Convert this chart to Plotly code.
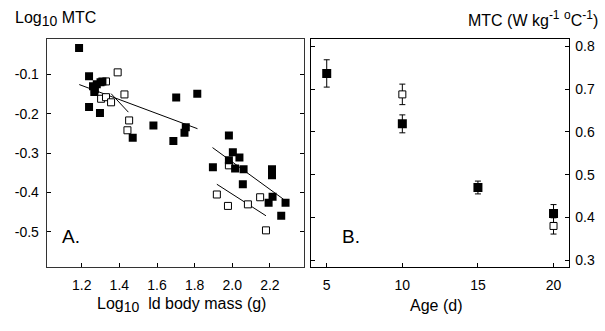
import plotly.graph_objects as go

# ---------------- Panel A data ----------------
# filled squares
a_fill_x = [1.186, 1.239, 1.26, 1.28, 1.30, 1.31, 1.27, 1.267, 1.239, 1.297, 1.471,
            1.581, 1.702, 1.814, 1.753, 1.746, 1.687,
            1.982, 2.003, 2.038, 1.982, 1.897, 2.015, 2.06, 2.211, 2.211, 2.056,
            2.214, 2.193, 2.283, 2.26]
a_fill_y = [-0.033, -0.105, -0.13, -0.125, -0.12, -0.118, -0.138, -0.145, -0.183, -0.198, -0.261,
            -0.230, -0.159, -0.149, -0.234, -0.248, -0.269,
            -0.255, -0.298, -0.311, -0.318, -0.336, -0.339, -0.341, -0.341, -0.356, -0.379,
            -0.411, -0.426, -0.426, -0.459]
# open squares
a_open_x = [1.391, 1.329, 1.303, 1.329, 1.356, 1.427, 1.452, 1.443,
            1.982, 1.918, 1.977, 2.083, 2.148, 2.179]
a_open_y = [-0.095, -0.118, -0.162, -0.158, -0.171, -0.151, -0.217, -0.242,
            -0.331, -0.405, -0.434, -0.430, -0.412, -0.496]
# regression line endpoints
fit1_x = [1.187, 1.815]; fit1_y = [-0.126, -0.238]
fit2_x = [1.356, 1.448]; fit2_y = [-0.149, -0.196]
fit3_x = [1.895, 2.272]; fit3_y = [-0.286, -0.417]
fit4_x = [1.918, 2.179]; fit4_y = [-0.379, -0.459]

a_xticks = [1.2, 1.4, 1.6, 1.8, 2.0, 2.2]
a_xtext = ["1.2", "1.4", "1.6", "1.8", "2.0", "2.2"]
a_yticks = [-0.1, -0.2, -0.3, -0.4, -0.5]
a_ytext = ["-0.1", "-0.2", "-0.3", "-0.4", "-0.5"]

# ---------------- Panel B data ----------------
b_fill_age = [5, 10, 15, 20]
b_fill_mtc = [0.737, 0.619, 0.470, 0.409]
b_fill_err = [0.032, 0.021, 0.015, 0.021]
b_open_age = [10, 20]
b_open_mtc = [0.688, 0.380]
b_open_err = [0.024, 0.019]

b_xticks = [5, 10, 15, 20]
b_yticks = [0.3, 0.4, 0.5, 0.6, 0.7, 0.8]
b_ytext = ["0.3", "0.4", "0.5", "0.6", "0.7", "0.8"]

W, H = 605, 331
FONT = "Liberation Sans, Arial, sans-serif"

fig = go.Figure()

for fx, fy in [(fit1_x, fit1_y), (fit2_x, fit2_y), (fit3_x, fit3_y), (fit4_x, fit4_y)]:
    fig.add_trace(go.Scatter(x=fx, y=fy, mode="lines", line=dict(color="black", width=1),
                             xaxis="x", yaxis="y", showlegend=False))

fig.add_trace(go.Scatter(x=a_open_x, y=a_open_y, mode="markers",
                         marker=dict(symbol="square", size=7, color="white",
                                     line=dict(color="black", width=1)),
                         xaxis="x", yaxis="y", showlegend=False))
fig.add_trace(go.Scatter(x=a_fill_x, y=a_fill_y, mode="markers",
                         marker=dict(symbol="square", size=8, color="black",
                                     line=dict(color="black", width=0)),
                         xaxis="x", yaxis="y", showlegend=False))

fig.add_trace(go.Scatter(x=b_open_age, y=b_open_mtc, mode="markers",
                         error_y=dict(type="data", array=b_open_err, color="black",
                                      thickness=1, width=3),
                         marker=dict(symbol="square", size=7, color="white",
                                     line=dict(color="black", width=1)),
                         xaxis="x2", yaxis="y2", showlegend=False))
fig.add_trace(go.Scatter(x=b_fill_age, y=b_fill_mtc, mode="markers",
                         error_y=dict(type="data", array=b_fill_err, color="black",
                                      thickness=1, width=3),
                         marker=dict(symbol="square", size=9, color="black",
                                     line=dict(color="black", width=0)),
                         xaxis="x2", yaxis="y2", showlegend=False))

ydom = [1 - 268 / H, 1 - 38.5 / H]
tickfont = dict(family=FONT, size=14, color="black")

fig.update_layout(
    width=W, height=H,
    margin=dict(l=0, r=0, t=0, b=0),
    paper_bgcolor="white", plot_bgcolor="white",
    xaxis=dict(domain=[46.7 / W, 304 / W], range=[1.014, 2.381],
               tickvals=a_xticks, ticktext=a_xtext, ticks="inside", ticklen=4,
               tickcolor="black", showline=True, linecolor="#333", linewidth=1,
               mirror=True, showgrid=False, zeroline=False, tickfont=tickfont,
               anchor="y", ticklabelstandoff=5),
    yaxis=dict(domain=ydom, range=[-0.590, -0.011],
               tickvals=a_yticks, ticktext=a_ytext, ticks="inside", ticklen=4,
               tickcolor="black", showline=True, linecolor="#333", linewidth=1,
               mirror="ticks", showgrid=False, zeroline=False, tickfont=tickfont,
               anchor="x", ticklabelstandoff=4),
    xaxis2=dict(domain=[311 / W, 568.5 / W], range=[3.96, 20.99],
                tickvals=b_xticks, ticks="inside", ticklen=4, tickcolor="black",
                showline=True, linecolor="black", linewidth=1, mirror=True,
                showgrid=False, zeroline=False, tickfont=tickfont, anchor="y2",
                ticklabelstandoff=5),
    yaxis2=dict(domain=ydom, range=[0.283, 0.817], side="right",
                tickvals=b_yticks, ticktext=b_ytext, ticks="inside", ticklen=4,
                tickcolor="black", showline=True, linecolor="black", linewidth=1,
                mirror="ticks", showgrid=False, zeroline=False, tickfont=tickfont,
                anchor="x2", ticklabelstandoff=3),
)

SUB = "<sub><span style='font-size:14px'>10</span></sub>"
SUP1 = "<sup><span style='font-size:12px'>-1</span></sup>"
SUPO = "<sup><span style='font-size:12px'>o</span></sup>"

ann_font = dict(family=FONT, size=16, color="black")
fig.add_annotation(text="Log" + SUB + " MTC", x=13 / W, y=1 - 18 / H, xref="paper", yref="paper",
                   xanchor="left", yanchor="middle", showarrow=False, font=ann_font)
fig.add_annotation(text="MTC (W kg" + SUP1 + " " + SUPO + "C" + SUP1 + ")", x=600 / W, y=1 - 18 / H,
                   xref="paper", yref="paper", xanchor="right", yanchor="middle",
                   showarrow=False, font=ann_font)
fig.add_annotation(text="Log" + SUB + "  ld body mass (g)", x=181 / W, y=1 - 306 / H,
                   xref="paper", yref="paper", xanchor="center", yanchor="middle",
                   showarrow=False, font=ann_font)
fig.add_annotation(text="Age (d)", x=436 / W, y=1 - 306 / H,
                   xref="paper", yref="paper", xanchor="center", yanchor="middle",
                   showarrow=False, font=ann_font)
fig.add_annotation(text="A.", x=60 / W, y=1 - 237 / H, xref="paper", yref="paper",
                   xanchor="left", yanchor="middle", showarrow=False,
                   font=dict(family=FONT, size=19, color="black"))
fig.add_annotation(text="B.", x=340 / W, y=1 - 237 / H, xref="paper", yref="paper",
                   xanchor="left", yanchor="middle", showarrow=False,
                   font=dict(family=FONT, size=19, color="black"))

fig.write_html("out.html")
